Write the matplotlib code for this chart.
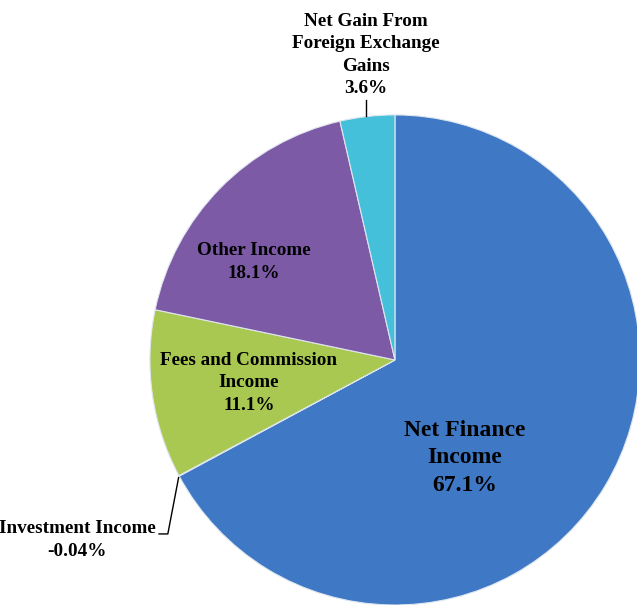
import matplotlib.pyplot as plt

# slice data, clockwise from 12 o'clock
labels = ["Net Finance\nIncome", "Investment Income", "Fees and Commission\nIncome",
          "Other Income", "Net Gain From\nForeign Exchange\nGains"]
shares = [67.1, -0.04, 11.1, 18.1, 3.6]
colors = ["#3f79c6", "#5a5a5a", "#a9c852", "#7d5aa6", "#45c0da"]

plt.rcParams['font.family'] = ['Liberation Serif', 'DejaVu Serif']

fig = plt.figure(figsize=(6.37, 6.05), dpi=100)
ax = fig.add_axes([0, 0, 1, 1])

# pie cannot take a negative value, so draw its size
sizes = [abs(v) for v in shares]
wedges, _ = ax.pie(sizes, colors=colors, startangle=90, counterclock=False,
                   radius=1.0, wedgeprops=dict(edgecolor="#dfe6ee", linewidth=0.8))

ax.set_aspect('auto')
ax.set_xlim(-1.612, 0.988)
ax.set_ylim(-1.0, 1.469)
ax.axis('off')

def pct(v):
    return "%.2f%%" % v if abs(v) < 0.1 else "%.1f%%" % v

small = 13.8

# labels inside the slices
ax.text(0.286, -0.40, labels[0] + "\n" + pct(shares[0]), ha='center', va='center',
        fontsize=17, fontweight='bold', linespacing=1.42)
ax.text(-0.596, -0.094, labels[2] + "\n" + pct(shares[2]), ha='center', va='center',
        fontsize=small, fontweight='bold', linespacing=1.42)
ax.text(-0.576, 0.40, labels[3] + "\n" + pct(shares[3]), ha='center', va='center',
        fontsize=small, fontweight='bold', linespacing=1.42)

# outside labels with leader lines
ax.text(-0.118, 1.245, labels[4] + "\n" + pct(shares[4]), ha='center', va='center',
        fontsize=small, fontweight='bold', linespacing=1.42)
ax.plot([-0.118, -0.118], [1.06, 0.995], color='black', lw=1)

ax.text(-1.298, -0.735, labels[1] + "\n" + pct(shares[1]), ha='center', va='center',
        fontsize=small, fontweight='bold', linespacing=1.42)
ax.plot([-0.883, -0.927, -0.963], [-0.48, -0.71, -0.71], color='black', lw=1)

fig.savefig("out.png", dpi=100)
